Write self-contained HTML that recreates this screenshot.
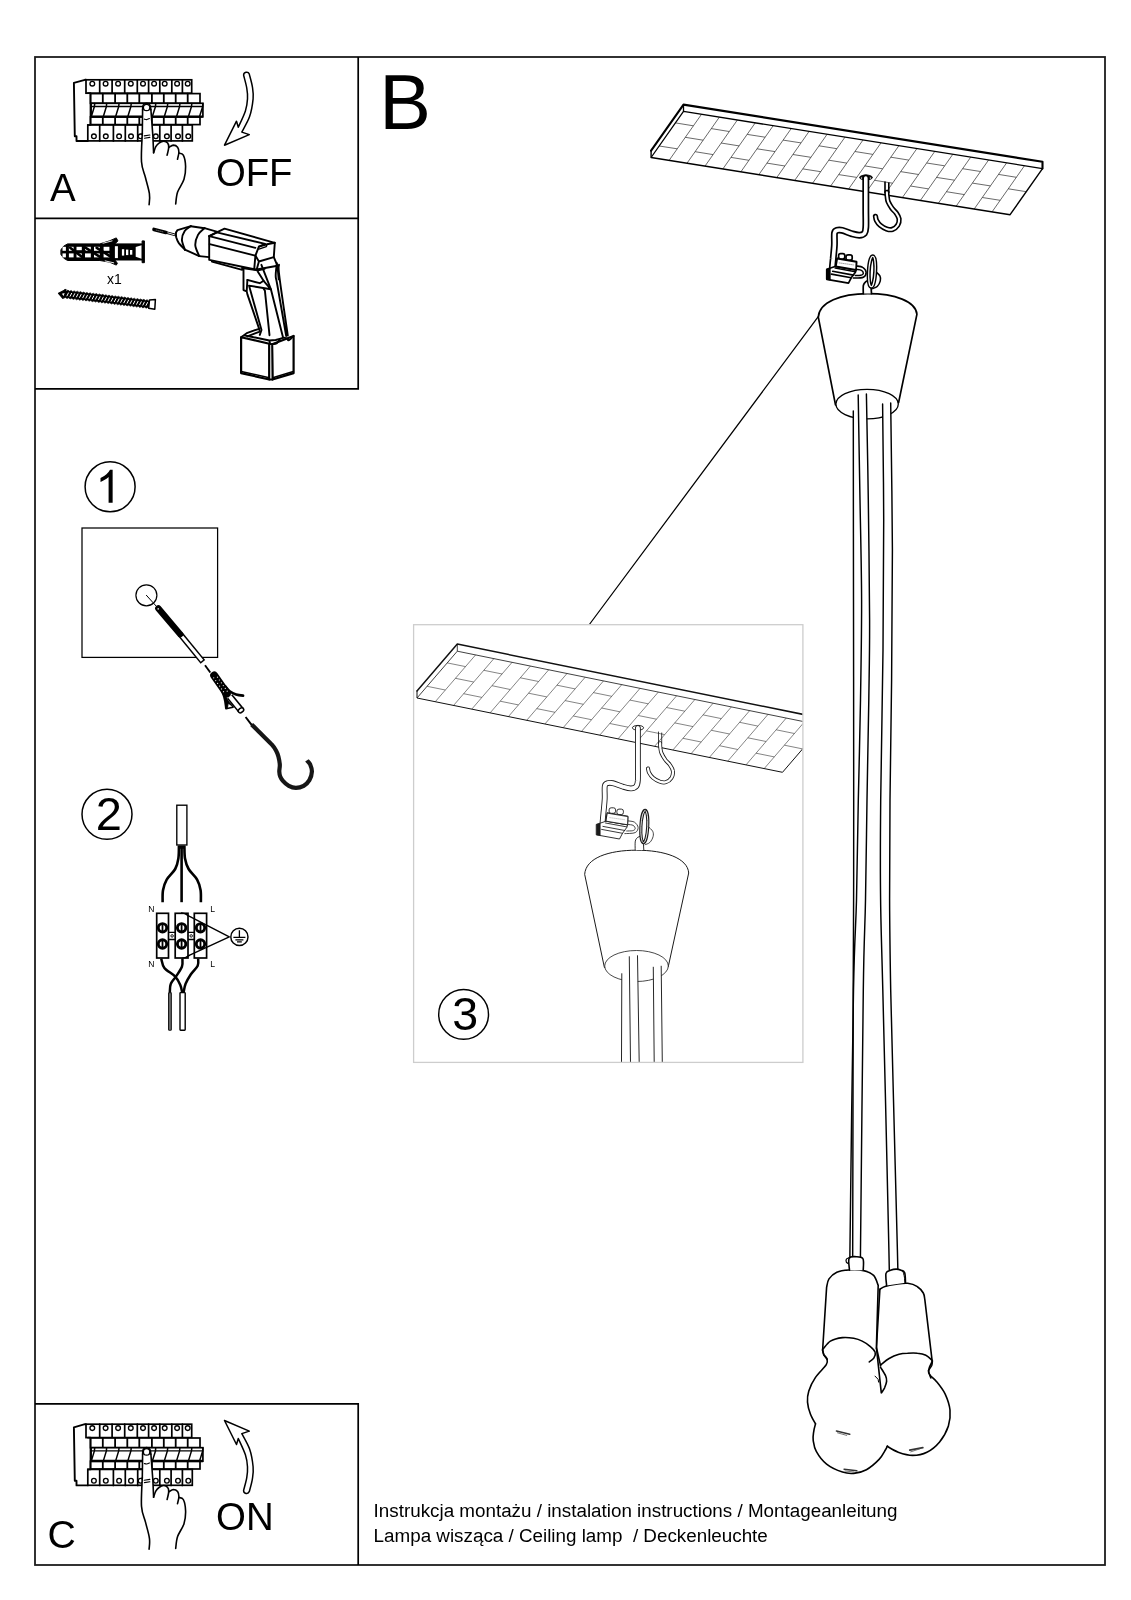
<!DOCTYPE html>
<html><head><meta charset="utf-8"><title>Instrukcja montazu</title>
<style>
html,body{margin:0;padding:0;background:#fff;}
body{width:1131px;height:1600px;overflow:hidden;font-family:"Liberation Sans",sans-serif;}
svg{position:absolute;left:0;top:0;display:block;will-change:transform;}
text{font-family:"Liberation Sans",sans-serif;fill:#000;}
.k{fill:none;stroke:#000;stroke-linecap:round;stroke-linejoin:round;}
.w{fill:#fff;stroke:#000;stroke-linecap:round;stroke-linejoin:round;}
</style></head><body>
<svg width="1131" height="1600" viewBox="0 0 1131 1600">
<rect x="0" y="0" width="1131" height="1600" fill="#fff"/>
<rect x="35" y="57" width="1070" height="1508" fill="none" stroke="#1c1c1c" stroke-width="1.8"/>
<path d="M358.2 57 V388.9 H35 M35 218.4 H358.2" fill="none" stroke="#000" stroke-width="1.7"/>
<path d="M35 1403.8 H358.2 V1565" fill="none" stroke="#000" stroke-width="1.7"/>
<text x="49.9" y="201" font-size="38.5">A</text>
<text x="215.9" y="185.7" font-size="38.3">OFF</text>
<text x="47.6" y="1548.0" font-size="39.2">C</text>
<text x="216.1" y="1529.7" font-size="38.4">ON</text>
<text x="379.3" y="129" font-size="77.5">B</text>
<text x="107" y="283.6" font-size="14">x1</text>
<text x="373.6" y="1516.6" font-size="18.82">Instrukcja montażu / instalation instructions / Montageanleitung</text>
<text x="373.6" y="1541.5" font-size="18.82" xml:space="preserve">Lampa wisząca / Ceiling lamp  / Deckenleuchte</text>
<g id="brkA"><path d="M86.0 79.8 L84.9 79.8 L73.9 82.9 L74.8 136.3 L76.5 136.3 L76.5 141.0 L87.8 141.0" fill="#fff" stroke="#000" stroke-width="1.9" stroke-linecap="round" stroke-linejoin="round" />
<rect x="86.0" y="79.8" width="105.7" height="13.4" fill="#fff" stroke="#000" stroke-width="1.7"/>
<path d="M99.7 79.8 L99.7 93.2M112.1 79.8 L112.1 93.2M124.7 79.8 L124.7 93.2M137.3 79.8 L137.3 93.2M148.6 79.8 L148.6 93.2M159.8 79.8 L159.8 93.2M171.8 79.8 L171.8 93.2M182.4 79.8 L182.4 93.2" fill="none" stroke="#000" stroke-width="1.7" stroke-linecap="round" stroke-linejoin="round" />
<circle cx="92.3" cy="83.7" r="2.35" fill="#fff" stroke="#000" stroke-width="1.35"/>
<circle cx="105.6" cy="83.7" r="2.35" fill="#fff" stroke="#000" stroke-width="1.35"/>
<circle cx="118.1" cy="83.7" r="2.35" fill="#fff" stroke="#000" stroke-width="1.35"/>
<circle cx="130.8" cy="83.7" r="2.35" fill="#fff" stroke="#000" stroke-width="1.35"/>
<circle cx="143.0" cy="83.7" r="2.35" fill="#fff" stroke="#000" stroke-width="1.35"/>
<circle cx="154.1" cy="83.7" r="2.35" fill="#fff" stroke="#000" stroke-width="1.35"/>
<circle cx="164.7" cy="83.7" r="2.35" fill="#fff" stroke="#000" stroke-width="1.35"/>
<circle cx="177.1" cy="83.7" r="2.35" fill="#fff" stroke="#000" stroke-width="1.35"/>
<circle cx="187.7" cy="83.7" r="2.35" fill="#fff" stroke="#000" stroke-width="1.35"/>
<rect x="90.5" y="93.6" width="109.5" height="9.7" fill="#fff" stroke="#000" stroke-width="1.7"/>
<path d="M102.8 93.6 L102.8 103.3M115.1 93.6 L115.1 103.3M127.3 93.6 L127.3 103.3M139.3 93.6 L139.3 103.3M151.9 93.6 L151.9 103.3M163.8 93.6 L163.8 103.3M175.7 93.6 L175.7 103.3M187.7 93.6 L187.7 103.3" fill="none" stroke="#000" stroke-width="1.8" stroke-linecap="round" stroke-linejoin="round" />
<rect x="90.5" y="116.8" width="109.5" height="7.8" fill="#fff" stroke="#000" stroke-width="1.7"/>
<path d="M102.8 116.8 L102.8 124.6M115.1 116.8 L115.1 124.6M127.3 116.8 L127.3 124.6M139.3 116.8 L139.3 124.6M151.9 116.8 L151.9 124.6M163.8 116.8 L163.8 124.6M175.7 116.8 L175.7 124.6M187.7 116.8 L187.7 124.6" fill="none" stroke="#000" stroke-width="1.8" stroke-linecap="round" stroke-linejoin="round" />
<rect x="91.1" y="103.3" width="111.8" height="13.5" fill="#fff" stroke="#000" stroke-width="1.7"/>
<path d="M91.1 106.5 L202.9 106.5" fill="none" stroke="#000" stroke-width="1.4" stroke-linecap="round" stroke-linejoin="round" style="stroke-linecap:butt"/>
<path d="M90.5 116.6 L202.9 116.6" fill="none" stroke="#000" stroke-width="2.3" stroke-linecap="round" stroke-linejoin="round" style="stroke-linecap:butt"/>
<path d="M94.7 103.6 L94.4 106.5 L91.5 116.0M106.6 103.6 L106.4 106.5 L103.5 116.0M119.0 103.6 L118.7 106.5 L115.8 116.0M131.2 103.6 L130.9 106.5 L128.0 116.0M155.7 103.6 L155.5 106.5 L152.5 116.0M167.7 103.6 L167.4 106.5 L164.5 116.0M179.9 103.6 L179.6 106.5 L176.7 116.0M191.8 103.6 L191.5 106.5 L188.6 116.0M202.9 103.6 L202.7 106.5 L199.7 116.0" fill="none" stroke="#000" stroke-width="1.5" stroke-linecap="round" stroke-linejoin="round" />
<rect x="87.8" y="125.0" width="104.5" height="15.9" fill="#fff" stroke="#000" stroke-width="1.7"/>
<path d="M99.7 125.0 L99.7 141.0M113.4 125.0 L113.4 141.0M125.3 125.0 L125.3 141.0M137.7 125.0 L137.7 141.0M159.8 125.0 L159.8 141.0M171.1 125.0 L171.1 141.0M182.4 125.0 L182.4 141.0" fill="none" stroke="#000" stroke-width="1.7" stroke-linecap="round" stroke-linejoin="round" />
<circle cx="93.9" cy="136.3" r="2.35" fill="#fff" stroke="#000" stroke-width="1.35"/>
<circle cx="105.8" cy="136.3" r="2.35" fill="#fff" stroke="#000" stroke-width="1.35"/>
<circle cx="119.1" cy="136.3" r="2.35" fill="#fff" stroke="#000" stroke-width="1.35"/>
<circle cx="131.0" cy="136.3" r="2.35" fill="#fff" stroke="#000" stroke-width="1.35"/>
<circle cx="140.6" cy="136.3" r="2.35" fill="#fff" stroke="#000" stroke-width="1.35"/>
<circle cx="155.8" cy="136.3" r="2.35" fill="#fff" stroke="#000" stroke-width="1.35"/>
<circle cx="166.9" cy="136.3" r="2.35" fill="#fff" stroke="#000" stroke-width="1.35"/>
<circle cx="178.0" cy="136.3" r="2.35" fill="#fff" stroke="#000" stroke-width="1.35"/>
<circle cx="188.3" cy="136.3" r="2.35" fill="#fff" stroke="#000" stroke-width="1.35"/>
<path d="M87.8 93.2 L90.5 93.2 L90.5 125.0 L87.8 125.0" fill="none" stroke="#000" stroke-width="1.7" stroke-linecap="round" stroke-linejoin="round" />
<path d="M142.6 109.8 L143.2 105.1 L146.6 103.2 L149.9 105.1 L150.9 109.8 L153.2 144.3 L153.1 139.5 L153.7 152.3 L158.2 143.5 L163.3 141.1 L167.7 143.1 L169.0 147.2 L174.1 145.1 L178.6 148.8 L179.2 153.1 L183.7 155.5 L185.6 166.6 L183.7 179.3 L177.3 192.1 L175.7 204.0 L149.1 204.8 L149.4 193.7 L145.5 177.7 L141.5 161.8 L142.3 133.2 Z" fill="#fff" stroke="none" stroke-width="0" stroke-linecap="round" stroke-linejoin="round" />
<path d="M142.6 109.8 L142.3 133.4 " fill="none" stroke="#000" stroke-width="1.6" stroke-linecap="round" stroke-linejoin="round" />
<path d="M142.6 109.8 C142.7 109.0 142.6 106.3 143.2 105.1 C143.9 104.0 145.5 103.2 146.6 103.2 C147.7 103.2 149.2 104.0 149.9 105.1 C150.6 106.3 150.8 109.0 150.9 109.8" fill="none" stroke="#000" stroke-width="1.6" stroke-linecap="round" stroke-linejoin="round" />
<path d="M150.9 109.8 L152.9 136.4 L153.6 152.8" fill="none" stroke="#000" stroke-width="1.6" stroke-linecap="round" stroke-linejoin="round" />
<path d="M142.3 133.2 C142.1 138.0 141.0 154.4 141.5 161.8 C142.0 169.3 144.1 172.4 145.5 177.7 C146.8 183.1 148.8 189.2 149.4 193.7 C150.1 198.2 149.2 202.9 149.1 204.8" fill="none" stroke="#000" stroke-width="1.6" stroke-linecap="round" stroke-linejoin="round" />
<path d="M153.6 152.8 C154.0 151.8 154.9 148.3 155.8 146.7 C156.7 145.1 157.7 144.0 159.0 143.1 C160.3 142.1 162.3 141.1 163.8 141.1 C165.2 141.1 166.9 142.0 167.7 143.1 C168.6 144.1 168.8 145.5 168.7 147.5 C168.6 149.5 167.4 153.9 167.1 155.1" fill="none" stroke="#000" stroke-width="1.6" stroke-linecap="round" stroke-linejoin="round" />
<path d="M168.7 147.5 C169.5 147.1 171.8 145.2 173.3 145.1 C174.8 145.1 176.7 146.0 177.6 147.2 C178.5 148.4 178.9 150.3 178.9 152.3 C178.9 154.3 177.7 158.1 177.5 159.3" fill="none" stroke="#000" stroke-width="1.6" stroke-linecap="round" stroke-linejoin="round" />
<path d="M178.9 153.1 C179.6 153.4 182.2 152.9 183.3 155.1 C184.5 157.4 185.5 162.6 185.6 166.6 C185.7 170.6 185.3 175.1 184.0 179.3 C182.7 183.6 179.0 188.0 177.6 192.1 C176.2 196.2 176.0 202.0 175.7 204.0" fill="none" stroke="#000" stroke-width="1.6" stroke-linecap="round" stroke-linejoin="round" />
<circle cx="146.6" cy="107.5" r="3.2" fill="#fff" stroke="#000" stroke-width="1.3"/>
<path d="M144.3 119.1 C144.7 119.2 145.9 119.7 146.7 119.6 C147.5 119.5 148.9 118.7 149.4 118.5" fill="none" stroke="#000" stroke-width="1.1" stroke-linecap="round" stroke-linejoin="round" />
<path d="M144.2 135.9 L149.9 135.0M144.4 138.2 L149.9 137.4" fill="none" stroke="#000" stroke-width="1.1" stroke-linecap="round" stroke-linejoin="round" /></g>
<g transform="translate(0 1344.4)"><path d="M86.0 79.8 L84.9 79.8 L73.9 82.9 L74.8 136.3 L76.5 136.3 L76.5 141.0 L87.8 141.0" fill="#fff" stroke="#000" stroke-width="1.9" stroke-linecap="round" stroke-linejoin="round" />
<rect x="86.0" y="79.8" width="105.7" height="13.4" fill="#fff" stroke="#000" stroke-width="1.7"/>
<path d="M99.7 79.8 L99.7 93.2M112.1 79.8 L112.1 93.2M124.7 79.8 L124.7 93.2M137.3 79.8 L137.3 93.2M148.6 79.8 L148.6 93.2M159.8 79.8 L159.8 93.2M171.8 79.8 L171.8 93.2M182.4 79.8 L182.4 93.2" fill="none" stroke="#000" stroke-width="1.7" stroke-linecap="round" stroke-linejoin="round" />
<circle cx="92.3" cy="83.7" r="2.35" fill="#fff" stroke="#000" stroke-width="1.35"/>
<circle cx="105.6" cy="83.7" r="2.35" fill="#fff" stroke="#000" stroke-width="1.35"/>
<circle cx="118.1" cy="83.7" r="2.35" fill="#fff" stroke="#000" stroke-width="1.35"/>
<circle cx="130.8" cy="83.7" r="2.35" fill="#fff" stroke="#000" stroke-width="1.35"/>
<circle cx="143.0" cy="83.7" r="2.35" fill="#fff" stroke="#000" stroke-width="1.35"/>
<circle cx="154.1" cy="83.7" r="2.35" fill="#fff" stroke="#000" stroke-width="1.35"/>
<circle cx="164.7" cy="83.7" r="2.35" fill="#fff" stroke="#000" stroke-width="1.35"/>
<circle cx="177.1" cy="83.7" r="2.35" fill="#fff" stroke="#000" stroke-width="1.35"/>
<circle cx="187.7" cy="83.7" r="2.35" fill="#fff" stroke="#000" stroke-width="1.35"/>
<rect x="90.5" y="93.6" width="109.5" height="9.7" fill="#fff" stroke="#000" stroke-width="1.7"/>
<path d="M102.8 93.6 L102.8 103.3M115.1 93.6 L115.1 103.3M127.3 93.6 L127.3 103.3M139.3 93.6 L139.3 103.3M151.9 93.6 L151.9 103.3M163.8 93.6 L163.8 103.3M175.7 93.6 L175.7 103.3M187.7 93.6 L187.7 103.3" fill="none" stroke="#000" stroke-width="1.8" stroke-linecap="round" stroke-linejoin="round" />
<rect x="90.5" y="116.8" width="109.5" height="7.8" fill="#fff" stroke="#000" stroke-width="1.7"/>
<path d="M102.8 116.8 L102.8 124.6M115.1 116.8 L115.1 124.6M127.3 116.8 L127.3 124.6M139.3 116.8 L139.3 124.6M151.9 116.8 L151.9 124.6M163.8 116.8 L163.8 124.6M175.7 116.8 L175.7 124.6M187.7 116.8 L187.7 124.6" fill="none" stroke="#000" stroke-width="1.8" stroke-linecap="round" stroke-linejoin="round" />
<rect x="91.1" y="103.3" width="111.8" height="13.5" fill="#fff" stroke="#000" stroke-width="1.7"/>
<path d="M91.1 106.5 L202.9 106.5" fill="none" stroke="#000" stroke-width="1.4" stroke-linecap="round" stroke-linejoin="round" style="stroke-linecap:butt"/>
<path d="M90.5 116.6 L202.9 116.6" fill="none" stroke="#000" stroke-width="2.3" stroke-linecap="round" stroke-linejoin="round" style="stroke-linecap:butt"/>
<path d="M94.7 103.6 L94.4 106.5 L91.5 116.0M106.6 103.6 L106.4 106.5 L103.5 116.0M119.0 103.6 L118.7 106.5 L115.8 116.0M131.2 103.6 L130.9 106.5 L128.0 116.0M155.7 103.6 L155.5 106.5 L152.5 116.0M167.7 103.6 L167.4 106.5 L164.5 116.0M179.9 103.6 L179.6 106.5 L176.7 116.0M191.8 103.6 L191.5 106.5 L188.6 116.0M202.9 103.6 L202.7 106.5 L199.7 116.0" fill="none" stroke="#000" stroke-width="1.5" stroke-linecap="round" stroke-linejoin="round" />
<rect x="87.8" y="125.0" width="104.5" height="15.9" fill="#fff" stroke="#000" stroke-width="1.7"/>
<path d="M99.7 125.0 L99.7 141.0M113.4 125.0 L113.4 141.0M125.3 125.0 L125.3 141.0M137.7 125.0 L137.7 141.0M159.8 125.0 L159.8 141.0M171.1 125.0 L171.1 141.0M182.4 125.0 L182.4 141.0" fill="none" stroke="#000" stroke-width="1.7" stroke-linecap="round" stroke-linejoin="round" />
<circle cx="93.9" cy="136.3" r="2.35" fill="#fff" stroke="#000" stroke-width="1.35"/>
<circle cx="105.8" cy="136.3" r="2.35" fill="#fff" stroke="#000" stroke-width="1.35"/>
<circle cx="119.1" cy="136.3" r="2.35" fill="#fff" stroke="#000" stroke-width="1.35"/>
<circle cx="131.0" cy="136.3" r="2.35" fill="#fff" stroke="#000" stroke-width="1.35"/>
<circle cx="140.6" cy="136.3" r="2.35" fill="#fff" stroke="#000" stroke-width="1.35"/>
<circle cx="155.8" cy="136.3" r="2.35" fill="#fff" stroke="#000" stroke-width="1.35"/>
<circle cx="166.9" cy="136.3" r="2.35" fill="#fff" stroke="#000" stroke-width="1.35"/>
<circle cx="178.0" cy="136.3" r="2.35" fill="#fff" stroke="#000" stroke-width="1.35"/>
<circle cx="188.3" cy="136.3" r="2.35" fill="#fff" stroke="#000" stroke-width="1.35"/>
<path d="M87.8 93.2 L90.5 93.2 L90.5 125.0 L87.8 125.0" fill="none" stroke="#000" stroke-width="1.7" stroke-linecap="round" stroke-linejoin="round" />
<path d="M142.6 109.8 L143.2 105.1 L146.6 103.2 L149.9 105.1 L150.9 109.8 L153.2 144.3 L153.1 139.5 L153.7 152.3 L158.2 143.5 L163.3 141.1 L167.7 143.1 L169.0 147.2 L174.1 145.1 L178.6 148.8 L179.2 153.1 L183.7 155.5 L185.6 166.6 L183.7 179.3 L177.3 192.1 L175.7 204.0 L149.1 204.8 L149.4 193.7 L145.5 177.7 L141.5 161.8 L142.3 133.2 Z" fill="#fff" stroke="none" stroke-width="0" stroke-linecap="round" stroke-linejoin="round" />
<path d="M142.6 109.8 L142.3 133.4 " fill="none" stroke="#000" stroke-width="1.6" stroke-linecap="round" stroke-linejoin="round" />
<path d="M142.6 109.8 C142.7 109.0 142.6 106.3 143.2 105.1 C143.9 104.0 145.5 103.2 146.6 103.2 C147.7 103.2 149.2 104.0 149.9 105.1 C150.6 106.3 150.8 109.0 150.9 109.8" fill="none" stroke="#000" stroke-width="1.6" stroke-linecap="round" stroke-linejoin="round" />
<path d="M150.9 109.8 L152.9 136.4 L153.6 152.8" fill="none" stroke="#000" stroke-width="1.6" stroke-linecap="round" stroke-linejoin="round" />
<path d="M142.3 133.2 C142.1 138.0 141.0 154.4 141.5 161.8 C142.0 169.3 144.1 172.4 145.5 177.7 C146.8 183.1 148.8 189.2 149.4 193.7 C150.1 198.2 149.2 202.9 149.1 204.8" fill="none" stroke="#000" stroke-width="1.6" stroke-linecap="round" stroke-linejoin="round" />
<path d="M153.6 152.8 C154.0 151.8 154.9 148.3 155.8 146.7 C156.7 145.1 157.7 144.0 159.0 143.1 C160.3 142.1 162.3 141.1 163.8 141.1 C165.2 141.1 166.9 142.0 167.7 143.1 C168.6 144.1 168.8 145.5 168.7 147.5 C168.6 149.5 167.4 153.9 167.1 155.1" fill="none" stroke="#000" stroke-width="1.6" stroke-linecap="round" stroke-linejoin="round" />
<path d="M168.7 147.5 C169.5 147.1 171.8 145.2 173.3 145.1 C174.8 145.1 176.7 146.0 177.6 147.2 C178.5 148.4 178.9 150.3 178.9 152.3 C178.9 154.3 177.7 158.1 177.5 159.3" fill="none" stroke="#000" stroke-width="1.6" stroke-linecap="round" stroke-linejoin="round" />
<path d="M178.9 153.1 C179.6 153.4 182.2 152.9 183.3 155.1 C184.5 157.4 185.5 162.6 185.6 166.6 C185.7 170.6 185.3 175.1 184.0 179.3 C182.7 183.6 179.0 188.0 177.6 192.1 C176.2 196.2 176.0 202.0 175.7 204.0" fill="none" stroke="#000" stroke-width="1.6" stroke-linecap="round" stroke-linejoin="round" />
<circle cx="146.6" cy="107.5" r="3.2" fill="#fff" stroke="#000" stroke-width="1.3"/>
<path d="M144.3 119.1 C144.7 119.2 145.9 119.7 146.7 119.6 C147.5 119.5 148.9 118.7 149.4 118.5" fill="none" stroke="#000" stroke-width="1.1" stroke-linecap="round" stroke-linejoin="round" />
<path d="M144.2 135.9 L149.9 135.0M144.4 138.2 L149.9 137.4" fill="none" stroke="#000" stroke-width="1.1" stroke-linecap="round" stroke-linejoin="round" /></g>
<path d="M243.6 75.2 C244.1 77.4 246.2 84.3 246.8 88.3 C247.5 92.2 247.7 95.1 247.5 98.9 C247.3 102.7 246.9 106.2 245.4 110.9 C243.9 115.6 239.5 124.5 238.3 127.2 L236.5 121.2 L224.5 145.2 L249.3 134.6 L241.8 132.1 L241.8 132.1 C243.1 129.5 247.7 122.1 249.6 116.6 C251.5 111.1 252.6 103.9 253.1 98.9 C253.6 94.0 253.0 91.0 252.4 86.9 C251.8 82.8 249.8 76.2 249.3 74.1 A2.95 2.95 0 0 0 243.6 75.2 Z" fill="#fff" stroke="#000" stroke-width="1.5" stroke-linejoin="round"/>
<g transform="translate(0 1565.7) scale(1 -1)"><path d="M243.6 75.2 C244.1 77.4 246.2 84.3 246.8 88.3 C247.5 92.2 247.7 95.1 247.5 98.9 C247.3 102.7 246.9 106.2 245.4 110.9 C243.9 115.6 239.5 124.5 238.3 127.2 L236.5 121.2 L224.5 145.2 L249.3 134.6 L241.8 132.1 L241.8 132.1 C243.1 129.5 247.7 122.1 249.6 116.6 C251.5 111.1 252.6 103.9 253.1 98.9 C253.6 94.0 253.0 91.0 252.4 86.9 C251.8 82.8 249.8 76.2 249.3 74.1 A2.95 2.95 0 0 0 243.6 75.2 Z" fill="#fff" stroke="#000" stroke-width="1.5" stroke-linejoin="round"/></g>
<path d="M61.1 249.6 L63.6 246.2 L67.5 243.9 L99.9 243.9 L109.4 240.9 L116.3 237.9 L117.9 240.9 L114.9 243.9 L142.1 243.9 L142.1 240.9 L144.4 240.9 L144.4 262.7 L142.1 262.7 L142.1 260.0 L114.9 260.0 L117.4 263.2 L116.3 265.1 L109.4 262.1 L99.9 260.5 L67.5 260.5 L63.6 258.1 L61.1 254.7 Z" fill="#000" stroke="#000" stroke-width="1.0" stroke-linecap="round" stroke-linejoin="round" />
<rect x="62.5" y="246.8" width="3.4" height="4.0" fill="#fff"/>
<rect x="62.5" y="253.4" width="3.4" height="4.0" fill="#fff"/>
<rect x="68.9" y="246.8" width="4.7" height="4.0" fill="#fff"/>
<rect x="68.9" y="253.4" width="4.7" height="4.0" fill="#fff"/>
<rect x="76.5" y="246.8" width="5.3" height="4.0" fill="#fff"/>
<rect x="76.5" y="253.4" width="5.3" height="4.0" fill="#fff"/>
<rect x="85.0" y="246.8" width="5.8" height="4.0" fill="#fff"/>
<rect x="85.0" y="253.4" width="5.8" height="4.0" fill="#fff"/>
<rect x="94.0" y="246.8" width="5.8" height="4.0" fill="#fff"/>
<rect x="94.0" y="253.4" width="5.8" height="4.0" fill="#fff"/>
<rect x="103.6" y="246.8" width="5.8" height="4.0" fill="#fff"/>
<rect x="103.6" y="253.4" width="5.8" height="4.0" fill="#fff"/>
<rect x="114.9" y="246.2" width="3.0" height="11.9" fill="#fff"/>
<rect x="121.9" y="249.2" width="2.3" height="6.4" fill="#fff"/>
<rect x="126.0" y="249.6" width="2.3" height="5.5" fill="#fff"/>
<rect x="130.0" y="250.0" width="2.3" height="4.7" fill="#fff"/>
<path d="M135.7 247.1 L141.5 245.2 L141.5 258.7 L135.7 256.8 Z" fill="#fff" stroke="none" stroke-width="0" stroke-linecap="round" stroke-linejoin="round" />
<path d="M135.7 250.0 L141.5 250.0M135.7 253.9 L141.5 253.9" fill="none" stroke="none" stroke-width="0.0" stroke-linecap="round" stroke-linejoin="round" />
<path d="M70.2 247.8 L81.8 256.8M85.0 247.3 L99.9 256.8M72.8 251.5 L85.0 251.5M96.7 247.8 L109.4 255.8" fill="none" stroke="#000" stroke-width="2.6" stroke-linecap="round" stroke-linejoin="round" />
<path d="M103.1 243.2 L112.1 240.9" fill="none" stroke="#fff" stroke-width="0.9" stroke-linecap="round" stroke-linejoin="round" />
<path d="M105.2 260.9 L113.7 262.8" fill="none" stroke="#fff" stroke-width="0.9" stroke-linecap="round" stroke-linejoin="round" />
<path d="M64.8 289.7 L66.3 290.9 L68.0 290.1 L69.5 291.3 L71.2 290.5 L72.6 291.7 L74.3 290.9 L75.8 292.0 L77.5 291.2 L79.0 292.4 L80.7 291.6 L82.1 292.8 L83.8 292.0 L85.3 293.2 L87.0 292.4 L88.4 293.6 L90.2 292.8 L91.6 294.0 L93.3 293.2 L94.8 294.3 L96.5 293.5 L97.9 294.7 L99.6 293.9 L101.1 295.1 L102.8 294.3 L104.3 295.5 L106.0 294.7 L107.4 295.9 L109.1 295.1 L110.6 296.3 L112.3 295.5 L113.8 296.7 L115.5 295.9 L116.9 297.0 L118.6 296.2 L120.1 297.4 L121.8 296.6 L123.2 297.8 L124.9 297.0 L126.4 298.2 L128.1 297.4 L129.6 298.6 L131.3 297.8 L132.7 299.0 L134.4 298.2 L135.9 299.4 L137.6 298.6 L139.1 299.7 L140.8 298.9 L142.2 300.1 L143.9 299.3 L145.4 300.5 L147.1 299.7 L148.6 300.9 L150.3 300.1 L149.2 308.6 L147.8 307.4 L146.1 308.2 L144.6 307.1 L142.9 307.9 L141.4 306.7 L139.7 307.5 L138.3 306.3 L136.6 307.1 L135.1 305.9 L133.4 306.7 L131.9 305.5 L130.2 306.3 L128.8 305.1 L127.1 305.9 L125.6 304.8 L123.9 305.6 L122.4 304.4 L120.7 305.2 L119.3 304.0 L117.6 304.8 L116.1 303.6 L114.4 304.4 L113.0 303.2 L111.3 304.0 L109.8 302.8 L108.1 303.6 L106.6 302.4 L104.9 303.2 L103.5 302.1 L101.8 302.9 L100.3 301.7 L98.6 302.5 L97.1 301.3 L95.4 302.1 L94.0 300.9 L92.3 301.7 L90.8 300.5 L89.1 301.3 L87.7 300.1 L85.9 300.9 L84.5 299.7 L82.8 300.5 L81.3 299.4 L79.6 300.2 L78.2 299.0 L76.5 299.8 L75.0 298.6 L73.3 299.4 L71.8 298.2 L70.1 299.0 L68.7 297.8 L67.0 298.6 L65.5 297.4 L63.8 298.2 Z" fill="#000" stroke="#000" stroke-width="0.6" stroke-linecap="round" stroke-linejoin="round" />
<path d="M68.6 292.6 L66.8 296.2 M71.8 293.0 L69.9 296.6 M74.9 293.3 L73.1 296.9 M78.1 293.7 L76.3 297.3 M81.3 294.1 L79.4 297.7 M84.4 294.5 L82.6 298.1 M87.6 294.9 L85.7 298.5 M90.8 295.3 L88.9 298.9 M93.9 295.7 L92.1 299.3 M97.1 296.0 L95.2 299.6 M100.2 296.4 L98.4 300.0 M103.4 296.8 L101.6 300.4 M106.6 297.2 L104.7 300.8 M109.7 297.6 L107.9 301.2 M112.9 298.0 L111.0 301.6 M116.1 298.3 L114.2 302.0 M119.2 298.7 L117.4 302.3 M122.4 299.1 L120.5 302.7 M125.6 299.5 L123.7 303.1 M128.7 299.9 L126.9 303.5 M131.9 300.3 L130.0 303.9 M135.0 300.7 L133.2 304.3 M138.2 301.0 L136.4 304.6 M141.4 301.4 L139.5 305.0 M144.5 301.8 L142.7 305.4 M147.7 302.2 L145.8 305.8 " fill="none" stroke="#fff" stroke-width="1.0" stroke-linecap="round" stroke-linejoin="round" style="stroke-linecap:butt"/>
<path d="M58.5 293.4 L65.9 289.5 L62.9 298.4 Z" fill="#000" stroke="#000" stroke-width="1.2" stroke-linecap="round" stroke-linejoin="round" />
<path d="M61.9 293.8 L64.6 292.9 L63.6 295.9 Z" fill="#fff" stroke="none" stroke-width="0" stroke-linecap="round" stroke-linejoin="round" />
<path d="M149.5 299.9 L155.4 299.5 L154.8 309.2 L148.7 308.2 Z" fill="#fff" stroke="#000" stroke-width="1.5" stroke-linecap="round" stroke-linejoin="round" />
<path d="M166.1 232.4 L175.6 235.1" fill="none" stroke="#000" stroke-width="2.6" stroke-linecap="round" stroke-linejoin="round" style="stroke-linecap:butt"/>
<path d="M166.7 232.5 L174.8 234.9" fill="none" stroke="#fff" stroke-width="0.9" stroke-linecap="round" stroke-linejoin="round" style="stroke-linecap:butt"/>
<path d="M154.0 229.4 L165.8 232.5" fill="none" stroke="#000" stroke-width="3.6" stroke-linecap="round" stroke-linejoin="round" />
<path d="M156.2 230.1 L163.9 232.1" fill="none" stroke="#777" stroke-width="0.8" stroke-linecap="round" stroke-linejoin="round" stroke-dasharray="0.9 1.1"/>
<path d="M176.0 232.6 L177.5 230.1 L190.8 226.2 " fill="none" stroke="#000" stroke-width="1.9" stroke-linecap="round" stroke-linejoin="round" />
<path d="M190.8 226.2 C189.8 227.0 186.1 228.9 184.7 231.1 C183.2 233.4 181.9 236.7 181.9 239.8 C182.0 242.9 184.4 248.1 184.9 249.7" fill="none" stroke="#000" stroke-width="1.9" stroke-linecap="round" stroke-linejoin="round" />
<path d="M176.0 232.6 C176.0 233.4 175.8 235.6 176.2 237.3 C176.7 239.0 177.3 240.8 178.7 242.9 C180.2 245.0 183.9 248.6 184.9 249.7" fill="none" stroke="#000" stroke-width="1.9" stroke-linecap="round" stroke-linejoin="round" />
<path d="M190.8 226.2 L204.5 228.2" fill="none" stroke="#000" stroke-width="1.9" stroke-linecap="round" stroke-linejoin="round" />
<path d="M204.5 228.2 C203.4 229.3 199.5 232.0 198.0 234.9 C196.5 237.7 195.1 241.8 195.3 245.4 C195.5 248.9 198.6 254.3 199.3 256.1" fill="none" stroke="#000" stroke-width="1.9" stroke-linecap="round" stroke-linejoin="round" />
<path d="M184.9 249.7 L199.3 256.1" fill="none" stroke="#000" stroke-width="1.9" stroke-linecap="round" stroke-linejoin="round" />
<path d="M204.5 228.2 L217.5 231.8" fill="none" stroke="#000" stroke-width="1.9" stroke-linecap="round" stroke-linejoin="round" />
<path d="M199.3 256.1 L209.2 257.1" fill="none" stroke="#000" stroke-width="1.9" stroke-linecap="round" stroke-linejoin="round" />
<path d="M209.2 236.1 L209.2 259.9 L254.2 269.3 L255.4 255.6 L258.9 246.6 L267.0 244.3 L274.8 242.8 L224.5 228.7 L216.8 232.4 Z" fill="#fff" stroke="#000" stroke-width="1.9" stroke-linecap="round" stroke-linejoin="round" />
<path d="M209.2 236.1 L216.8 232.4 L265.1 243.8 L258.9 246.6" fill="none" stroke="#000" stroke-width="1.9" stroke-linecap="round" stroke-linejoin="round" />
<path d="M209.2 236.1 L255.4 247.8M209.7 244.1 L255.2 255.6" fill="none" stroke="#000" stroke-width="1.9" stroke-linecap="round" stroke-linejoin="round" />
<path d="M211.9 261.6 L242.2 269.8 L242.2 267.6" fill="none" stroke="#000" stroke-width="1.9" stroke-linecap="round" stroke-linejoin="round" />
<path d="M274.8 242.8 L273.8 257.1 L277.5 265.8 L278.7 279.4" fill="none" stroke="#000" stroke-width="1.9" stroke-linecap="round" stroke-linejoin="round" />
<path d="M258.9 261.5 L273.8 257.1M256.7 269.5 L277.5 265.8M255.4 255.6 L258.9 261.5 L256.7 269.5 L254.2 269.3" fill="none" stroke="#000" stroke-width="1.9" stroke-linecap="round" stroke-linejoin="round" />
<path d="M267.0 244.3 L266.3 246.6 L258.9 249.1" fill="none" stroke="#000" stroke-width="1.52" stroke-linecap="round" stroke-linejoin="round" />
<path d="M243.5 268.8 L243.5 290.1 L246.7 291.4 L247.4 279.9M246.7 291.4 L247.4 294.4 L259.1 328.6 L259.8 331.6 L247.4 336.4" fill="none" stroke="#000" stroke-width="1.9" stroke-linecap="round" stroke-linejoin="round" />
<path d="M243.9 268.4 L258.2 270.3 L264.6 268.8M247.4 279.9 L259.8 283.2 L263.6 280.8 L257.4 271.1" fill="none" stroke="#000" stroke-width="1.9" stroke-linecap="round" stroke-linejoin="round" />
<path d="M249.0 285.6 L270.9 289.3 L263.6 280.8M249.0 285.6 L261.5 330.0 L259.8 334.9" fill="none" stroke="#000" stroke-width="1.9" stroke-linecap="round" stroke-linejoin="round" />
<path d="M263.6 288.8 L264.9 290.6 L269.5 335.2M270.9 289.3 L282.8 336.5M261.4 264.8 L270.9 289.3" fill="none" stroke="#000" stroke-width="1.9" stroke-linecap="round" stroke-linejoin="round" />
<path d="M276.9 263.2 C276.7 265.3 275.6 272.2 275.7 275.9 C275.8 279.6 275.7 275.4 277.4 285.5 C279.2 295.5 284.7 327.6 286.2 336.0M279.0 264.8 C279.1 266.6 277.8 264.1 279.3 275.9 C280.7 287.7 286.4 325.6 287.8 335.6" fill="none" stroke="#000" stroke-width="1.9" stroke-linecap="round" stroke-linejoin="round" />
<path d="M241.1 337.3 L269.3 343.7 L269.3 379.5 L241.1 373.1 Z" fill="#fff" stroke="#000" stroke-width="2.1999999999999997" stroke-linecap="round" stroke-linejoin="round" />
<path d="M272.1 344.2 L293.6 336.0 L293.6 373.1 L272.5 379.5 Z" fill="#fff" stroke="#000" stroke-width="2.1999999999999997" stroke-linecap="round" stroke-linejoin="round" />
<path d="M269.3 343.7 L272.1 344.2 L272.5 379.5 L269.3 379.5 Z" fill="#fff" stroke="#000" stroke-width="1.9" stroke-linecap="round" stroke-linejoin="round" />
<path d="M241.1 337.3 L247.4 332.8 L259.1 328.8M243.9 335.2 L269.3 340.5 L275.7 340.0 L279.7 338.8 L283.6 337.6M269.3 340.5 L270.1 343.7" fill="none" stroke="#000" stroke-width="1.9" stroke-linecap="round" stroke-linejoin="round" />
<path d="M272.5 344.2 C273.2 344.0 275.3 344.1 276.5 343.4 C277.7 342.6 279.1 340.2 279.7 339.6M283.6 337.6 C284.2 337.7 286.0 337.9 286.8 338.4 C287.6 338.8 287.8 340.3 288.4 340.4 C289.1 340.4 289.9 339.5 290.8 338.8 C291.7 338.0 293.1 336.4 293.6 336.0" fill="none" stroke="#000" stroke-width="1.9" stroke-linecap="round" stroke-linejoin="round" />
<path d="M241.3 371.4 L269.2 377.7M272.7 377.7 L293.3 371.4" fill="none" stroke="#000" stroke-width="1.52" stroke-linecap="round" stroke-linejoin="round" />
<circle cx="110.1" cy="486.8" r="25" fill="none" stroke="#000" stroke-width="1.5"/><path d="M763 0H583V1147Q518 1085 412.5 1023Q307 961 223 930V1104Q374 1175 487 1276Q600 1377 647 1472H763Z" transform="translate(95.50 502.80) scale(0.02246 -0.02246)" fill="#000"/>
<rect x="82" y="528" width="135.6" height="129.4" fill="none" stroke="#000" stroke-width="1.25"/>
<circle cx="146.4" cy="595.3" r="10.5" fill="none" stroke="#000" stroke-width="1.2"/>
<path d="M146.4 595.3 L157 607" fill="none" stroke="#000" stroke-width="1.0" stroke-linecap="round" stroke-linejoin="round" />
<path d="M180.2 634.2 L202.9 661.9" fill="none" stroke="#000" stroke-width="5.9" stroke-linecap="round" stroke-linejoin="round" style="stroke-linecap:butt"/>
<path d="M181.8 636.1 L202.0 660.8" fill="none" stroke="#fff" stroke-width="3.0" stroke-linecap="round" stroke-linejoin="round" style="stroke-linecap:butt"/>
<path d="M158.3 608.4 L180.2 634.2" fill="none" stroke="#000" stroke-width="6.3" stroke-linecap="round" stroke-linejoin="round" />
<circle cx="158.2" cy="608.9" r="0.8" fill="#ddd"/>
<path d="M205 665.3 L210.3 672.5" fill="none" stroke="#000" stroke-width="1.9" stroke-linecap="round" stroke-linejoin="round" style="stroke-linecap:butt"/>
<path d="M245.6 717 L251.2 724.4" fill="none" stroke="#000" stroke-width="1.9" stroke-linecap="round" stroke-linejoin="round" style="stroke-linecap:butt"/>
<path d="M229.7 696.6 L241.0 710.3" fill="none" stroke="#000" stroke-width="7.0" stroke-linecap="round" stroke-linejoin="round" style="stroke-linecap:butt"/>
<path d="M229.7 696.6 L241.3 710.7" fill="none" stroke="#fff" stroke-width="3.9" stroke-linecap="round" stroke-linejoin="round" style="stroke-linecap:butt"/>
<ellipse cx="241.0" cy="710.3" rx="3.0" ry="2.1" transform="rotate(-38 241.0 710.3)" fill="#fff" stroke="#000" stroke-width="1.5"/>
<path d="M221.2 689.7 C221.7 690.9 223.5 695.0 224.1 697.1 C224.8 699.3 224.9 700.5 225.2 702.4 C225.5 704.3 225.9 707.5 226.0 708.5 L232.9 707.1 L228.1 701.9 Z" fill="#000" stroke="#000" stroke-width="2.0" stroke-linecap="round" stroke-linejoin="round" />
<path d="M228.6 704.0 L232.1 706.6 L228.0 707.4 Z" fill="#fff" stroke="#fff" stroke-width="0.1" stroke-linecap="round" stroke-linejoin="round" />
<path d="M225.5 686.5 C226.2 687.3 227.9 690.0 229.7 691.3 C231.5 692.6 233.8 693.8 236.1 694.5 C238.3 695.2 241.9 695.5 243.1 695.6" fill="none" stroke="#000" stroke-width="2.6" stroke-linecap="round" stroke-linejoin="round" />
<path d="M214.2 675.5 L226.8 693.5" fill="none" stroke="#000" stroke-width="8.0" stroke-linecap="round" stroke-linejoin="round" />
<circle cx="213.7" cy="677.8" r="0.62" fill="#e8e8e8"/>
<circle cx="217.5" cy="677.2" r="0.62" fill="#e8e8e8"/>
<circle cx="215.7" cy="680.6" r="0.62" fill="#e8e8e8"/>
<circle cx="219.4" cy="680.0" r="0.62" fill="#e8e8e8"/>
<circle cx="217.6" cy="683.4" r="0.62" fill="#e8e8e8"/>
<circle cx="221.4" cy="682.8" r="0.62" fill="#e8e8e8"/>
<circle cx="219.6" cy="686.1" r="0.62" fill="#e8e8e8"/>
<circle cx="223.3" cy="685.6" r="0.62" fill="#e8e8e8"/>
<circle cx="221.5" cy="688.9" r="0.62" fill="#e8e8e8"/>
<circle cx="225.3" cy="688.4" r="0.62" fill="#e8e8e8"/>
<circle cx="223.5" cy="691.7" r="0.62" fill="#e8e8e8"/>
<circle cx="227.2" cy="691.2" r="0.62" fill="#e8e8e8"/>
<path d="M251.0 723.8 L253 726" fill="none" stroke="#000" stroke-width="1.9" stroke-linecap="round" stroke-linejoin="round" style="stroke-linecap:butt"/>
<path d="M251.6 724.4 C253.2 726.0 257.6 730.4 261.0 733.8 C264.4 737.2 269.4 741.9 271.9 744.7 C274.4 747.5 274.9 748.5 276.0 750.5 C277.1 752.5 277.8 754.2 278.4 756.5 C279.0 758.8 279.6 762.0 279.8 764.5 C280.0 767.0 279.2 769.6 279.3 771.6 C279.4 773.6 279.6 775.0 280.2 776.5 C280.8 778.0 281.3 779.0 282.7 780.6 C284.1 782.2 286.6 784.7 288.8 785.9 C291.0 787.1 293.4 787.9 295.9 787.9 C298.4 787.9 301.4 787.1 303.7 785.8 C305.9 784.5 308.0 782.5 309.4 780.1 C310.8 777.7 311.8 774.2 311.9 771.6 C312.0 769.0 311.0 766.4 310.2 764.5 C309.4 762.6 307.4 761.1 306.9 760.4" fill="none" stroke="#161616" stroke-width="4.2" stroke-linecap="round" stroke-linejoin="round" style="stroke-linecap:butt"/>
<circle cx="107.0" cy="814.3" r="25" fill="none" stroke="#000" stroke-width="1.5"/><text x="108.7" y="830.1" font-size="47" text-anchor="middle">2</text>
<rect x="176.8" y="805.2" width="10.1" height="39.8" fill="#fff" stroke="#000" stroke-width="1.35"/>
<path d="M178.9 845.8 C178.9 847.9 179.0 854.5 178.4 858.4 C177.8 862.2 177.2 865.4 175.2 869.0 C173.3 872.5 168.8 876.0 166.7 879.6 C164.7 883.1 163.7 886.4 163.0 890.2 C162.3 894.0 162.7 900.2 162.6 902.2" fill="none" stroke="#000" stroke-width="2.6" stroke-linecap="round" stroke-linejoin="round" style="stroke-linecap:butt"/>
<path d="M181.6 845.8 L181.6 902.2" fill="none" stroke="#000" stroke-width="2.6" stroke-linecap="round" stroke-linejoin="round" style="stroke-linecap:butt"/>
<path d="M184.4 845.8 C184.5 847.9 184.3 854.5 185.0 858.4 C185.7 862.2 186.6 865.4 188.6 869.0 C190.6 872.5 195.1 876.0 197.1 879.6 C199.1 883.1 199.9 886.4 200.6 890.2 C201.2 894.0 200.8 900.2 200.9 902.2" fill="none" stroke="#000" stroke-width="2.6" stroke-linecap="round" stroke-linejoin="round" style="stroke-linecap:butt"/>
<path d="M178.4 847.2 L185.0 847.2" fill="none" stroke="#000" stroke-width="3.2" stroke-linecap="round" stroke-linejoin="round" style="stroke-linecap:butt"/>
<rect x="156.7" y="913.3" width="11.8" height="44.7" fill="#fff" stroke="#000" stroke-width="1.7"/>
<rect x="175.2" y="913.3" width="12.8" height="44.7" fill="#fff" stroke="#000" stroke-width="1.7"/>
<rect x="194.3" y="913.3" width="12.3" height="44.7" fill="#fff" stroke="#000" stroke-width="1.7"/>
<path d="M168.4 932.4 L175.2 932.4M168.4 939.5 L175.2 939.5M188.1 932.4 L194.3 932.4M188.1 939.5 L194.3 939.5" fill="none" stroke="#000" stroke-width="1.3" stroke-linecap="round" stroke-linejoin="round" style="stroke-linecap:butt"/>
<circle cx="172.1" cy="935.9" r="1.25" fill="#fff" stroke="#000" stroke-width="0.9"/>
<circle cx="191.2" cy="935.9" r="1.25" fill="#fff" stroke="#000" stroke-width="0.9"/>
<circle cx="162.5" cy="927.8" r="4.2" fill="#fff" stroke="#000" stroke-width="2.9"/>
<path d="M162.5 924.4 V931.2" fill="none" stroke="#000" stroke-width="1.8" stroke-linecap="round" stroke-linejoin="round" />
<circle cx="162.5" cy="944.0" r="4.2" fill="#fff" stroke="#000" stroke-width="2.9"/>
<path d="M162.5 940.6 V947.4" fill="none" stroke="#000" stroke-width="1.8" stroke-linecap="round" stroke-linejoin="round" />
<circle cx="181.6" cy="927.8" r="4.2" fill="#fff" stroke="#000" stroke-width="2.9"/>
<path d="M181.6 924.4 V931.2" fill="none" stroke="#000" stroke-width="1.8" stroke-linecap="round" stroke-linejoin="round" />
<circle cx="181.6" cy="944.0" r="4.2" fill="#fff" stroke="#000" stroke-width="2.9"/>
<path d="M181.6 940.6 V947.4" fill="none" stroke="#000" stroke-width="1.8" stroke-linecap="round" stroke-linejoin="round" />
<circle cx="200.5" cy="927.8" r="4.2" fill="#fff" stroke="#000" stroke-width="2.9"/>
<path d="M200.5 924.4 V931.2" fill="none" stroke="#000" stroke-width="1.8" stroke-linecap="round" stroke-linejoin="round" />
<circle cx="200.5" cy="944.0" r="4.2" fill="#fff" stroke="#000" stroke-width="2.9"/>
<path d="M200.5 940.6 V947.4" fill="none" stroke="#000" stroke-width="1.8" stroke-linecap="round" stroke-linejoin="round" />
<path d="M181.6 912.9 Q184.6 912.9 188.6 915.9 L229.3 936.9 L189.7 955.1 Q185.7 958.1 182.7 958.1" fill="none" stroke="#000" stroke-width="1.4" stroke-linecap="round" stroke-linejoin="round" />
<circle cx="239.4" cy="936.9" r="8.6" fill="#fff" stroke="#000" stroke-width="1.45"/>
<path d="M239.4 930.3 V937.4 M233.4 937.4 H245.4 M235.4 939.8 H243.4 M237.0 941.9 H241.8" fill="none" stroke="#000" stroke-width="1.3" stroke-linecap="round" stroke-linejoin="round" style="stroke-linecap:butt"/>
<text x="148.2" y="911.8" font-size="8.6">N</text>
<text x="210.3" y="912.3" font-size="8.6">L</text>
<text x="148.2" y="967.2" font-size="8.6">N</text>
<text x="210.3" y="967.4" font-size="8.6">L</text>
<path d="M161.2 958.6 C161.8 960.1 162.1 964.9 164.4 967.9 C166.7 970.9 172.4 973.6 175.0 976.4 C177.7 979.2 179.1 982.2 180.3 984.9 C181.5 987.6 181.9 991.2 182.2 992.5" fill="none" stroke="#000" stroke-width="2.5" stroke-linecap="round" stroke-linejoin="round" style="stroke-linecap:butt"/>
<path d="M182.4 958.6 C182.4 959.9 183.0 963.9 181.9 966.8 C180.8 969.8 177.9 973.6 176.1 976.4 C174.2 979.2 171.8 981.1 170.8 983.8 C169.7 986.5 170.0 991.1 169.8 992.5" fill="none" stroke="#000" stroke-width="2.5" stroke-linecap="round" stroke-linejoin="round" style="stroke-linecap:butt"/>
<path d="M198.1 958.6 C198.1 959.8 198.9 963.2 197.7 965.8 C196.5 968.4 192.9 971.3 190.9 974.3 C188.9 977.3 186.9 980.8 185.6 983.8 C184.4 986.9 183.9 991.1 183.5 992.5" fill="none" stroke="#000" stroke-width="2.5" stroke-linecap="round" stroke-linejoin="round" style="stroke-linecap:butt"/>
<rect x="168.6" y="992.6" width="2.7" height="37.6" rx="0.8" fill="#777" stroke="#111" stroke-width="1.1"/>
<rect x="180" y="992.6" width="5.2" height="37.6" rx="0.6" fill="#fff" stroke="#000" stroke-width="1.4"/>
<path d="M683.5 104.6 L1042.5 161.8 L1042.5 168.6 L1010.1 214.7 L651.1 157.5 L651.1 150.7 Z" fill="#fff" stroke="none"/>
<path d="M701.5 114.3 L669.1 160.4 M719.4 117.1 L687.0 163.2 M737.4 120.0 L705.0 166.1 M755.3 122.8 L722.9 168.9 M773.2 125.7 L740.9 171.8 M791.2 128.6 L758.8 174.7 M809.1 131.4 L776.8 177.5 M827.1 134.3 L794.7 180.4 M845.0 137.1 L812.6 183.2 M863.0 140.0 L830.6 186.1 M881.0 142.9 L848.6 189.0 M898.9 145.7 L866.5 191.8 M916.9 148.6 L884.5 194.7 M934.8 151.4 L902.4 197.5 M952.8 154.3 L920.4 200.4 M970.7 157.2 L938.3 203.3 M988.6 160.0 L956.2 206.1 M1006.6 162.9 L974.2 209.0 M1024.5 165.7 L992.1 211.8 M675.4 122.9 L693.4 125.8 M659.2 146.0 L677.2 148.8 M685.2 137.3 L703.2 140.2 M711.3 128.6 L729.2 131.5 M695.1 151.7 L713.1 154.6 M721.1 143.0 L739.1 145.9 M747.2 134.4 L765.1 137.2 M731.0 157.4 L749.0 160.3 M757.0 148.8 L775.0 151.6 M783.1 140.1 L801.0 142.9 M766.9 163.1 L784.9 166.0 M792.9 154.5 L810.9 157.3 M819.0 145.8 L836.9 148.7 M802.8 168.9 L820.8 171.7 M828.8 160.2 L846.8 163.1 M854.9 151.5 L872.9 154.4 M838.7 174.6 L856.7 177.4 M864.8 165.9 L882.7 168.8 M890.8 157.2 L908.8 160.1 M874.6 180.3 L892.6 183.2 M900.6 171.6 L918.6 174.5 M926.7 163.0 L944.6 165.8 M910.5 186.0 L928.5 188.9 M936.5 177.4 L954.5 180.2 M962.6 168.7 L980.5 171.5 M946.4 191.7 L964.4 194.6 M972.4 183.1 L990.4 185.9 M998.5 174.4 L1016.4 177.3 M982.3 197.5 L1000.2 200.3 M1008.3 188.8 L1026.3 191.7" fill="none" stroke="#2a2a2a" stroke-width="0.7"/>
<path d="M651.1 157.5 L683.5 111.4 L1042.5 168.6" fill="none" stroke="#000" stroke-width="1.3" stroke-linejoin="round"/>
<path d="M683.5 104.6 L683.5 111.4" fill="none" stroke="#000" stroke-width="1.3"/>
<path d="M651.1 150.7 L651.1 157.5 L1010.1 214.7 L1042.5 168.6" fill="none" stroke="#000" stroke-width="1.4" stroke-linejoin="round" stroke-linecap="round"/>
<path d="M651.1 150.7 L683.5 104.6 L1042.5 161.8 L1042.5 168.6" fill="none" stroke="#000" stroke-width="2.1" stroke-linejoin="round" stroke-linecap="round"/>
<path d="M818.6 316.2 L589 625" fill="none" stroke="#000" stroke-width="1.25" stroke-linecap="round" stroke-linejoin="round" />
<path d="M818.3 317.1 C819.3 302.1 840.8 293.7 867.8 293.7 C894.8 293.7 915.9 301.3 916.9 314.3 L898.6 402.7 L835.5 404.8 Z" fill="#fff" stroke="#000" stroke-width="1.7" stroke-linecap="round" stroke-linejoin="round" />
<ellipse cx="867.1" cy="404.1" rx="31.2" ry="14.8" fill="#fff" stroke="#000" stroke-width="1.3"/>
<path d="M853.3 411 L858.2 395 L866.4 394 L867 440 L853.4 440 Z M882.6 404 L890.7 403 L891 440 L882.9 440 Z" fill="#fff" stroke="none"/>
<path d="M853.3 411.0 C853.3 442.5 853.4 535.2 853.5 600.0 C853.6 664.8 853.7 750.0 853.7 800.0 C853.7 850.0 853.7 868.3 853.6 900.0 C853.5 931.7 853.4 931.7 853.2 990.0 C853.1 1048.3 852.8 1205.5 852.7 1250.0 C852.6 1294.5 852.6 1255.8 852.6 1257.0" fill="none" stroke="#000" stroke-width="1.45" stroke-linecap="round" stroke-linejoin="round" />
<path d="M858.2 395.0 C858.5 412.5 859.4 465.8 860.0 500.0 C860.6 534.2 861.5 566.7 861.6 600.0 C861.7 633.3 861.0 666.7 860.5 700.0 C860.0 733.3 859.0 766.7 858.3 800.0 C857.6 833.3 857.3 868.3 856.5 900.0 C855.7 931.7 854.6 932.5 853.5 990.0 C852.4 1047.5 850.5 1200.5 850.0 1245.0 C849.5 1289.5 850.3 1255.0 850.4 1257.0" fill="none" stroke="#000" stroke-width="1.45" stroke-linecap="round" stroke-linejoin="round" />
<path d="M866.4 394.0 C866.7 411.7 867.8 462.3 868.3 500.0 C868.8 537.7 869.5 586.7 869.6 620.0 C869.7 653.3 869.2 670.0 868.8 700.0 C868.4 730.0 867.5 766.7 867.0 800.0 C866.5 833.3 866.1 868.3 865.5 900.0 C864.9 931.7 864.1 931.7 863.3 990.0 C862.5 1048.3 861.0 1205.5 860.5 1250.0 C860.0 1294.5 860.4 1255.8 860.4 1257.0" fill="none" stroke="#000" stroke-width="1.45" stroke-linecap="round" stroke-linejoin="round" />
<path d="M882.6 404.0 C882.8 423.3 883.6 479.0 883.7 520.0 C883.8 561.0 883.5 603.3 883.0 650.0 C882.5 696.7 881.1 758.3 880.7 800.0 C880.3 841.7 880.2 868.3 880.6 900.0 C881.0 931.7 882.0 956.7 882.8 990.0 C883.6 1023.3 884.5 1056.7 885.5 1100.0 C886.5 1143.3 888.3 1221.7 888.9 1250.0 C889.5 1278.3 889.2 1266.7 889.3 1270.0" fill="none" stroke="#000" stroke-width="1.45" stroke-linecap="round" stroke-linejoin="round" />
<path d="M890.7 403.0 C891.0 427.5 892.2 503.8 892.4 550.0 C892.5 596.2 892.0 638.3 891.6 680.0 C891.2 721.7 890.3 763.3 890.0 800.0 C889.7 836.7 889.5 868.3 889.6 900.0 C889.7 931.7 890.1 956.7 890.7 990.0 C891.4 1023.3 892.4 1056.7 893.5 1100.0 C894.6 1143.3 896.7 1221.7 897.4 1250.0 C898.1 1278.3 897.7 1266.7 897.8 1270.0" fill="none" stroke="#000" stroke-width="1.45" stroke-linecap="round" stroke-linejoin="round" />
<ellipse cx="866.0" cy="177.5" rx="6.4" ry="2.5" fill="#111" stroke="#000" stroke-width="0.85"/>
<circle cx="861.6" cy="178.1" r="0.8" fill="#ccc"/><circle cx="870.4" cy="178.1" r="0.8" fill="#ccc"/>
<path d="M865.8 178.1 C865.8 183.3 865.8 201.3 865.8 209.5 C865.8 217.7 866.1 223.5 865.8 227.5 C865.6 231.4 865.4 232.0 864.4 233.3 C863.3 234.6 861.5 235.2 859.4 235.2 C857.3 235.3 854.9 234.6 852.0 233.8 C849.1 232.9 844.6 230.9 842.1 230.3 C839.6 229.7 838.4 229.8 837.1 230.3 C835.9 230.8 835.0 230.6 834.5 233.0 C834.1 235.5 834.6 240.7 834.4 245.0 C834.2 249.4 833.5 255.1 833.2 259.0 C832.8 262.9 832.4 267.1 832.3 268.7" fill="none" stroke="#000" stroke-width="7.0" stroke-linecap="round" stroke-linejoin="round" />
<path d="M865.8 178.1 C865.8 183.3 865.8 201.3 865.8 209.5 C865.8 217.7 866.1 223.5 865.8 227.5 C865.6 231.4 865.4 232.0 864.4 233.3 C863.3 234.6 861.5 235.2 859.4 235.2 C857.3 235.3 854.9 234.6 852.0 233.8 C849.1 232.9 844.6 230.9 842.1 230.3 C839.6 229.7 838.4 229.8 837.1 230.3 C835.9 230.8 835.0 230.6 834.5 233.0 C834.1 235.5 834.6 240.7 834.4 245.0 C834.2 249.4 833.5 255.1 833.2 259.0 C832.8 262.9 832.4 267.1 832.3 268.7" fill="none" stroke="#fff" stroke-width="3.6" stroke-linecap="round" stroke-linejoin="round" />
<path d="M885.0 181.4 L885.0 192.9 M888.8 182.4 L888.8 192.9" fill="none" stroke="#000" stroke-width="1.615" stroke-linecap="round" stroke-linejoin="round" style="stroke-linecap:butt"/>
<path d="M886.9 192.4 C886.9 193.2 887.0 195.6 887.3 197.1 C887.5 198.7 887.4 199.9 888.2 201.8 C889.0 203.6 890.6 206.3 891.9 208.2 C893.2 210.1 895.0 211.2 896.2 213.0 C897.4 214.8 898.8 216.8 899.1 218.8 C899.3 220.8 898.8 223.4 897.7 225.2 C896.6 227.0 894.3 228.8 892.4 229.4 C890.6 230.0 888.6 229.6 886.6 228.9 C884.6 228.2 881.9 226.6 880.2 225.2 C878.5 223.8 877.3 221.9 876.5 220.4 C875.7 218.9 875.7 217.1 875.5 216.4" fill="none" stroke="#000" stroke-width="5.3" stroke-linecap="round" stroke-linejoin="round" />
<path d="M886.9 192.4 C886.9 193.2 887.0 195.6 887.3 197.1 C887.5 198.7 887.4 199.9 888.2 201.8 C889.0 203.6 890.6 206.3 891.9 208.2 C893.2 210.1 895.0 211.2 896.2 213.0 C897.4 214.8 898.8 216.8 899.1 218.8 C899.3 220.8 898.8 223.4 897.7 225.2 C896.6 227.0 894.3 228.8 892.4 229.4 C890.6 230.0 888.6 229.6 886.6 228.9 C884.6 228.2 881.9 226.6 880.2 225.2 C878.5 223.8 877.3 221.9 876.5 220.4 C875.7 218.9 875.7 217.1 875.5 216.4" fill="none" stroke="#fff" stroke-width="2.07" stroke-linecap="round" stroke-linejoin="round" />
<path d="M856.5 266.0 C857.5 266.2 861.1 266.2 862.7 267.3 C864.3 268.3 866.0 270.6 866.1 272.2 C866.2 273.9 865.4 276.2 863.3 277.2 C861.2 278.2 855.1 278.0 853.4 278.1" fill="none" stroke="#000" stroke-width="1.53" stroke-linecap="round" stroke-linejoin="round" />
<path d="M856.5 269.4 C857.3 269.6 860.3 269.7 861.5 270.4 C862.6 271.0 863.4 272.6 863.3 273.5 C863.2 274.3 862.2 275.0 860.8 275.3 C859.5 275.7 856.2 275.6 855.3 275.6" fill="none" stroke="#000" stroke-width="1.53" stroke-linecap="round" stroke-linejoin="round" />
<path d="M826.8 269.3 L835.8 266.3 L856.1 269.8 L855.4 272.2 L851.2 277.8 L848.5 283.2 L826.8 279.3 Z" fill="#fff" stroke="#000" stroke-width="1.7" stroke-linecap="round" stroke-linejoin="round" />
<path d="M835.2 268.0 L855.4 271.7M832.7 271.3 L853.4 275.1M831.4 274.1 L851.2 277.8" fill="none" stroke="#000" stroke-width="1.615" stroke-linecap="round" stroke-linejoin="round" />
<path d="M826.8 269.3 L830.2 268.2 L830.2 280.0 L826.8 279.3 Z" fill="#000" stroke="#000" stroke-width="0.85" stroke-linecap="round" stroke-linejoin="round" />
<path d="M837.0 258.3 L856.5 261.6 L856.1 269.8 L835.8 266.3 Z" fill="#fff" stroke="#000" stroke-width="1.7" stroke-linecap="round" stroke-linejoin="round" />
<rect x="838.6" y="253.7" width="6.2" height="5.3" rx="2.0" fill="#fff" stroke="#000" stroke-width="1.7"/>
<rect x="846.0" y="254.9" width="6.2" height="5.3" rx="2.0" fill="#fff" stroke="#000" stroke-width="1.7"/>
<path d="M837.2 258.7 L856.4 262.0 L856.1 269.8 L835.9 266.3 Z" fill="#fff" stroke="#000" stroke-width="1.7" stroke-linecap="round" stroke-linejoin="round" />
<path d="M839.2 262.9 L853.4 264.9" fill="none" stroke="#999" stroke-width="0.935" stroke-linecap="round" stroke-linejoin="round" stroke-dasharray="1 1"/>
<path d="M875.7 271.6 C876.4 272.3 879.1 274.4 879.9 275.9 C880.7 277.5 880.8 279.1 880.3 280.9 C879.9 282.6 878.5 285.2 877.2 286.5 C876.0 287.7 873.4 288.3 872.6 288.6" fill="#fff" stroke="#000" stroke-width="1.53" stroke-linecap="round" stroke-linejoin="round" />
<path d="M869.5 280.3 C868.9 280.5 866.8 280.8 865.8 281.6 C864.8 282.5 863.9 283.2 863.4 285.2 C863.0 287.2 863.3 292.2 863.3 293.6 L871.5 293.6 L870.9 282.1 Z" fill="#fff" stroke="none" stroke-width="0" stroke-linecap="round" stroke-linejoin="round" />
<path d="M869.5 280.3 C868.9 280.5 866.8 280.8 865.8 281.6 C864.8 282.5 863.9 283.2 863.4 285.2 C863.0 287.2 863.3 292.2 863.3 293.6" fill="none" stroke="#000" stroke-width="1.7" stroke-linecap="round" stroke-linejoin="round" />
<path d="M870.9 284.6 L871.5 293.6" fill="none" stroke="#000" stroke-width="1.7" stroke-linecap="round" stroke-linejoin="round" />
<ellipse cx="872.0" cy="271.5" rx="3.2" ry="15.3" transform="rotate(3 872.0 271.5)" fill="none" stroke="#000" stroke-width="4.13"/>
<ellipse cx="872.0" cy="271.5" rx="3.2" ry="15.3" transform="rotate(3 872.0 271.5)" fill="none" stroke="#fff" stroke-width="1.16"/>
<path d="M932.4 1360.7 C932.3 1361.5 932.3 1363.7 931.7 1365.5 C931.0 1367.2 928.7 1369.4 928.5 1371.0 C928.2 1372.7 928.7 1373.6 930.1 1375.3 C931.4 1377.1 933.9 1378.3 936.4 1381.4 C938.9 1384.5 942.9 1389.3 945.2 1394.1 C947.4 1398.9 949.4 1404.7 950.0 1410.0 C950.5 1415.3 950.1 1420.6 948.4 1425.9 C946.6 1431.3 943.2 1437.5 939.6 1441.9 C936.0 1446.2 931.4 1450.0 926.9 1452.2 C922.4 1454.5 917.3 1455.4 912.6 1455.4 C907.8 1455.4 902.5 1453.7 898.2 1452.2 C894.0 1450.7 888.9 1447.3 887.1 1446.3" fill="none" stroke="#000" stroke-width="1.6" stroke-linecap="round" stroke-linejoin="round" />
<path d="M879.9 1289.2 C880.7 1288.8 882.2 1287.2 884.9 1286.4 C887.6 1285.5 892.4 1284.6 896.2 1284.1 C900.0 1283.6 904.2 1282.9 907.8 1283.3 C911.3 1283.7 914.8 1285.0 917.4 1286.7 C920.0 1288.3 922.1 1290.9 923.3 1293.0 C924.6 1295.2 924.5 1298.3 924.8 1299.4 L932.2 1361.4 L880.6 1365.9 L876.4 1347.5 Z" fill="#fff" stroke="none" stroke-width="0" stroke-linecap="round" stroke-linejoin="round" />
<path d="M879.9 1289.2 C880.7 1288.8 882.2 1287.2 884.9 1286.4 C887.6 1285.5 892.4 1284.6 896.2 1284.1 C900.0 1283.6 904.2 1282.9 907.8 1283.3 C911.3 1283.7 914.8 1285.0 917.4 1286.7 C920.0 1288.3 922.1 1290.9 923.3 1293.0 C924.6 1295.2 924.5 1298.3 924.8 1299.4 L932.2 1361.4" fill="none" stroke="#000" stroke-width="1.6" stroke-linecap="round" stroke-linejoin="round" />
<path d="M879.9 1289.2 L876.4 1347.5 L880.6 1365.9" fill="none" stroke="#000" stroke-width="1.6" stroke-linecap="round" stroke-linejoin="round" />
<path d="M932.2 1360.5 C931.2 1359.6 928.4 1356.5 925.9 1355.3 C923.4 1354.0 920.5 1353.5 917.4 1353.2 C914.3 1352.8 910.6 1353.0 907.5 1353.2 C904.4 1353.3 902.1 1353.4 899.0 1354.3 C895.9 1355.2 892.2 1356.7 889.1 1358.5 C886.0 1360.3 882.0 1364.0 880.6 1365.0" fill="none" stroke="#000" stroke-width="1.6" stroke-linecap="round" stroke-linejoin="round" />
<path d="M932.2 1361.4 C931.8 1362.3 930.0 1365.6 929.4 1367.3 C928.8 1369.0 928.5 1369.8 928.7 1371.5 C928.9 1373.3 930.5 1376.8 930.8 1377.9" fill="none" stroke="#000" stroke-width="1.6" stroke-linecap="round" stroke-linejoin="round" />
<path d="M886.6 1285.5 C886.5 1283.5 885.3 1275.9 886.0 1273.4 C886.7 1270.8 888.8 1271.0 890.5 1270.3 C892.2 1269.6 894.4 1269.1 896.2 1269.1 C897.9 1269.1 899.7 1269.7 901.1 1270.3 C902.5 1270.9 903.9 1270.7 904.7 1272.8 C905.4 1274.9 905.4 1281.1 905.5 1282.7" fill="#fff" stroke="#000" stroke-width="1.6" stroke-linecap="round" stroke-linejoin="round" />
<path d="M903.0 1271.4 C903.2 1272.3 904.1 1275.2 904.4 1277.1 C904.7 1278.9 904.6 1281.5 904.7 1282.4" fill="none" stroke="#000" stroke-width="1.0" stroke-linecap="round" stroke-linejoin="round" />
<path d="M876.4 1347.5 L881.3 1392.8 M880.6 1367.3 C881.4 1368.7 884.6 1373.4 885.6 1375.8 C886.6 1378.1 886.7 1379.4 886.6 1381.4 C886.4 1383.4 885.4 1385.9 884.6 1387.8 C883.7 1389.7 882.0 1391.9 881.5 1392.8" fill="none" stroke="#000" stroke-width="1.6" stroke-linecap="round" stroke-linejoin="round" />
<path d="M875.0 1376.1 L878.1 1379.3 L878.6 1382.1" fill="none" stroke="#000" stroke-width="1.0" stroke-linecap="round" stroke-linejoin="round" />
<path d="M822.6 1349.5 C822.8 1350.4 823.0 1353.1 823.7 1354.6 C824.5 1356.2 826.5 1357.1 826.9 1358.8 C827.3 1360.5 828.2 1361.6 826.3 1364.7 C824.4 1367.8 818.4 1373.0 815.5 1377.4 C812.5 1381.8 810.1 1386.8 808.8 1390.9 C807.5 1395.0 807.2 1398.2 807.5 1402.1 C807.8 1405.9 809.0 1410.4 810.4 1414.0 C811.7 1417.6 814.6 1422.2 815.5 1423.9" fill="none" stroke="#000" stroke-width="1.6" stroke-linecap="round" stroke-linejoin="round" />
<path d="M815.5 1423.9 C815.1 1425.3 813.9 1429.6 813.6 1432.3 C813.2 1435.0 812.8 1437.1 813.2 1440.3 C813.7 1443.5 814.0 1447.4 816.3 1451.4 C818.5 1455.4 822.2 1460.7 826.6 1464.1 C831.0 1467.6 838.0 1470.6 842.5 1472.1 C847.0 1473.6 849.7 1473.8 853.7 1473.4 C857.6 1473.0 862.2 1472.0 866.4 1469.7 C870.6 1467.4 875.9 1462.7 879.1 1459.4 C882.3 1456.1 884.1 1452.0 885.5 1449.8 C886.9 1447.6 887.1 1446.6 887.4 1446.0" fill="none" stroke="#000" stroke-width="1.6" stroke-linecap="round" stroke-linejoin="round" />
<path d="M826.6 1287.4 C827.0 1286.0 827.3 1281.4 829.0 1278.9 C830.7 1276.4 833.5 1273.7 836.8 1272.2 C840.1 1270.8 844.3 1270.3 848.8 1270.0 C853.3 1269.7 859.5 1269.7 863.6 1270.6 C867.8 1271.4 871.1 1272.9 873.6 1275.4 C876.0 1277.8 877.4 1283.6 878.2 1285.3 L876.4 1347.8 L822.6 1350.3 Z" fill="#fff" stroke="none" stroke-width="0" stroke-linecap="round" stroke-linejoin="round" />
<path d="M822.6 1350.3 L826.6 1287.4 C827.0 1286.0 827.3 1281.4 829.0 1278.9 C830.7 1276.4 833.5 1273.7 836.8 1272.2 C840.1 1270.8 844.3 1270.3 848.8 1270.0 C853.3 1269.7 859.5 1269.7 863.6 1270.6 C867.8 1271.4 871.1 1272.9 873.6 1275.4 C876.0 1277.8 877.4 1283.6 878.2 1285.3 L876.4 1347.8" fill="none" stroke="#000" stroke-width="1.6" stroke-linecap="round" stroke-linejoin="round" />
<path d="M822.9 1349.2 C824.2 1347.9 827.2 1343.1 830.4 1341.1 C833.7 1339.2 838.5 1338.1 842.4 1337.6 C846.3 1337.1 850.4 1337.7 853.7 1338.3 C857.0 1338.9 859.4 1339.7 862.2 1341.1 C865.1 1342.5 868.6 1344.9 870.7 1346.8 C872.9 1348.7 874.7 1350.6 875.2 1352.4 C875.8 1354.3 874.8 1356.5 873.8 1358.1 C872.8 1359.7 870.1 1361.3 869.3 1361.9" fill="none" stroke="#000" stroke-width="1.6" stroke-linecap="round" stroke-linejoin="round" />
<path d="M822.6 1350.3 C822.9 1351.1 823.3 1353.3 824.0 1354.9 C824.8 1356.4 826.6 1358.7 827.2 1359.5" fill="none" stroke="#000" stroke-width="1.6" stroke-linecap="round" stroke-linejoin="round" />
<path d="M849.5 1270.3 C849.4 1268.3 848.0 1260.7 849.1 1258.4 C850.1 1256.1 853.6 1256.6 855.9 1256.7 C858.2 1256.7 861.7 1256.4 862.9 1258.7 C864.2 1260.9 863.2 1268.3 863.2 1270.3" fill="#fff" stroke="#000" stroke-width="1.6" stroke-linecap="round" stroke-linejoin="round" />
<path d="M848.8 1257.8 C848.4 1258.0 846.8 1258.3 846.4 1259.1 C846.0 1259.8 846.1 1261.6 846.4 1262.3 C846.7 1263.1 848.0 1263.3 848.4 1263.5" fill="none" stroke="#000" stroke-width="1.2" stroke-linecap="round" stroke-linejoin="round" />
<path d="M836.5 1431.0 L849.7 1434.2" fill="none" stroke="#333" stroke-width="1.6" stroke-linecap="round" stroke-linejoin="round" />
<path d="M837.5 1432.8 L846.7 1435.4" fill="none" stroke="#555" stroke-width="0.8" stroke-linecap="round" stroke-linejoin="round" />
<path d="M844.1 1469.2 L856.8 1470.8" fill="none" stroke="#333" stroke-width="1.6" stroke-linecap="round" stroke-linejoin="round" />
<path d="M845.1 1471.0 L853.8 1472.0" fill="none" stroke="#555" stroke-width="0.8" stroke-linecap="round" stroke-linejoin="round" />
<path d="M909.7 1450.1 L922.9 1447.6" fill="none" stroke="#333" stroke-width="1.6" stroke-linecap="round" stroke-linejoin="round" />
<path d="M910.7 1451.9 L919.9 1448.8" fill="none" stroke="#555" stroke-width="0.8" stroke-linecap="round" stroke-linejoin="round" />
<rect x="413.6" y="624.7" width="389.3" height="437.7" fill="#fff" stroke="none"/>
<clipPath id="insetclip"><rect x="413.6" y="624.7" width="389.3" height="437.7"/></clipPath>
<g clip-path="url(#insetclip)">
<path d="M457.3 644.1 L822.8 718.4 L822.8 725.5 L782.5 772.3 L417.0 698.0 L417.0 690.9 Z" fill="#fff" stroke="none"/>
<path d="M475.6 654.9 L435.3 701.7 M493.9 658.6 L453.6 705.4 M512.1 662.3 L471.8 709.1 M530.4 666.1 L490.1 712.9 M548.7 669.8 L508.4 716.6 M567.0 673.5 L526.7 720.3 M585.2 677.2 L544.9 724.0 M603.5 680.9 L563.2 727.7 M621.8 684.6 L581.5 731.4 M640.0 688.4 L599.8 735.1 M658.3 692.1 L618.0 738.9 M676.6 695.8 L636.3 742.6 M694.9 699.5 L654.6 746.3 M713.1 703.2 L672.9 750.0 M731.4 706.9 L691.1 753.7 M749.7 710.6 L709.4 757.4 M768.0 714.4 L727.7 761.2 M786.2 718.1 L746.0 764.9 M804.5 721.8 L764.2 768.6 M447.2 662.9 L465.5 666.6 M427.1 686.3 L445.3 690.0 M455.4 678.3 L473.7 682.0 M483.8 670.3 L502.1 674.0 M463.6 693.7 L481.9 697.4 M492.0 685.7 L510.2 689.5 M520.3 677.8 L538.6 681.5 M500.2 701.2 L518.4 704.9 M528.5 693.2 L546.8 696.9 M556.9 685.2 L575.1 688.9 M536.7 708.6 L555.0 712.3 M565.1 700.6 L583.4 704.3 M593.4 692.6 L611.7 696.3 M573.3 716.0 L591.5 719.7 M601.6 708.0 L619.9 711.8 M630.0 700.1 L648.2 703.8 M609.8 723.5 L628.1 727.2 M638.2 715.5 L656.5 719.2 M666.5 707.5 L684.8 711.2 M646.4 730.9 L664.6 734.6 M674.7 722.9 L693.0 726.6 M703.1 714.9 L721.3 718.6 M682.9 738.3 L701.2 742.0 M711.3 730.3 L729.6 734.0 M739.6 722.3 L757.9 726.1 M719.5 745.7 L737.8 749.5 M747.8 737.8 L766.1 741.5 M776.2 729.8 L794.4 733.5 M756.0 753.2 L774.3 756.9 M784.4 745.2 L802.6 748.9" fill="none" stroke="#333" stroke-width="0.6"/>
<path d="M417.0 698.0 L457.3 651.2 L822.8 725.5" fill="none" stroke="#111" stroke-width="0.8" stroke-linejoin="round"/>
<path d="M457.3 644.1 L457.3 651.2" fill="none" stroke="#111" stroke-width="0.8"/>
<path d="M417.0 690.9 L417.0 698.0 L782.5 772.3 L822.8 725.5" fill="none" stroke="#111" stroke-width="1.0" stroke-linejoin="round" stroke-linecap="round"/>
<path d="M417.0 690.9 L457.3 644.1 L822.8 718.4 L822.8 725.5" fill="none" stroke="#111" stroke-width="1.5" stroke-linejoin="round" stroke-linecap="round"/>
<path d="M584.7 874.0 C585.7 858.0 608.5 850.2 636.5 850.2 C664.5 850.2 687.7 858.0 688.7 873.0 L668.2 967.0 L604.8 967.5 Z" fill="#fff" stroke="#1a1a1a" stroke-width="1.0" stroke-linecap="round" stroke-linejoin="round" />
<ellipse cx="636.5" cy="966" rx="31.8" ry="15.5" fill="#fff" stroke="#1a1a1a" stroke-width="0.8"/>
<path d="M621.8 973.7 L629.3 956.7 L637.5 955.7 L638 1000 L621.8 1000 Z M653.3 967.2 L661.2 966.2 L661.5 1000 L653.5 1000 Z" fill="#fff" stroke="none"/>
<path d="M621.8 973.7 L621.5 1063.0" fill="none" stroke="#1a1a1a" stroke-width="0.95" stroke-linecap="round" stroke-linejoin="round" />
<path d="M629.3 956.7 L630.5 1063.0" fill="none" stroke="#1a1a1a" stroke-width="0.95" stroke-linecap="round" stroke-linejoin="round" />
<path d="M637.5 955.7 L639.2 1063.0" fill="none" stroke="#1a1a1a" stroke-width="0.95" stroke-linecap="round" stroke-linejoin="round" />
<path d="M653.3 967.2 L654.2 1063.0" fill="none" stroke="#1a1a1a" stroke-width="0.95" stroke-linecap="round" stroke-linejoin="round" />
<path d="M661.2 966.2 L662.3 1063.0" fill="none" stroke="#1a1a1a" stroke-width="0.95" stroke-linecap="round" stroke-linejoin="round" />
<ellipse cx="638.0" cy="727.8" rx="5.6" ry="2.4" fill="#fff" stroke="#1a1a1a" stroke-width="0.9"/>
<path d="M637.9 728.1 C637.9 733.6 637.9 752.5 637.9 761.2 C637.9 769.9 638.1 776.0 637.9 780.2 C637.6 784.3 637.4 784.9 636.3 786.3 C635.2 787.7 633.2 788.3 631.1 788.4 C628.9 788.5 626.3 787.7 623.2 786.8 C620.2 785.9 615.4 783.8 612.8 783.2 C610.2 782.6 608.9 782.7 607.6 783.2 C606.2 783.6 605.3 783.4 604.8 786.0 C604.3 788.6 604.9 794.1 604.7 798.7 C604.5 803.3 603.8 809.3 603.4 813.5 C603.0 817.6 602.6 821.9 602.5 823.6" fill="none" stroke="#1a1a1a" stroke-width="5.8" stroke-linecap="round" stroke-linejoin="round" />
<path d="M637.9 728.1 C637.9 733.6 637.9 752.5 637.9 761.2 C637.9 769.9 638.1 776.0 637.9 780.2 C637.6 784.3 637.4 784.9 636.3 786.3 C635.2 787.7 633.2 788.3 631.1 788.4 C628.9 788.5 626.3 787.7 623.2 786.8 C620.2 785.9 615.4 783.8 612.8 783.2 C610.2 782.6 608.9 782.7 607.6 783.2 C606.2 783.6 605.3 783.4 604.8 786.0 C604.3 788.6 604.9 794.1 604.7 798.7 C604.5 803.3 603.8 809.3 603.4 813.5 C603.0 817.6 602.6 821.9 602.5 823.6" fill="none" stroke="#fff" stroke-width="4.0" stroke-linecap="round" stroke-linejoin="round" />
<path d="M658.5 731.6 L658.5 743.7 M661.7 732.6 L661.7 743.7" fill="none" stroke="#1a1a1a" stroke-width="0.855" stroke-linecap="round" stroke-linejoin="round" style="stroke-linecap:butt"/>
<path d="M660.1 743.2 C660.1 744.0 660.2 746.5 660.4 748.2 C660.7 749.8 660.6 751.1 661.5 753.1 C662.3 755.0 664.0 757.9 665.4 759.9 C666.8 761.8 668.6 763.0 669.9 764.9 C671.2 766.8 672.7 768.9 672.9 771.0 C673.2 773.2 672.6 775.9 671.5 777.8 C670.3 779.6 667.8 781.6 665.9 782.2 C663.9 782.9 661.9 782.4 659.8 781.7 C657.6 780.9 654.8 779.3 653.0 777.8 C651.2 776.3 649.9 774.3 649.1 772.7 C648.3 771.2 648.2 769.2 648.0 768.5" fill="none" stroke="#1a1a1a" stroke-width="4.0" stroke-linecap="round" stroke-linejoin="round" />
<path d="M660.1 743.2 C660.1 744.0 660.2 746.5 660.4 748.2 C660.7 749.8 660.6 751.1 661.5 753.1 C662.3 755.0 664.0 757.9 665.4 759.9 C666.8 761.8 668.6 763.0 669.9 764.9 C671.2 766.8 672.7 768.9 672.9 771.0 C673.2 773.2 672.6 775.9 671.5 777.8 C670.3 779.6 667.8 781.6 665.9 782.2 C663.9 782.9 661.9 782.4 659.8 781.7 C657.6 780.9 654.8 779.3 653.0 777.8 C651.2 776.3 649.9 774.3 649.1 772.7 C648.3 771.2 648.2 769.2 648.0 768.5" fill="none" stroke="#fff" stroke-width="2.29" stroke-linecap="round" stroke-linejoin="round" />
<path d="M628.0 820.9 C629.1 821.1 632.9 821.1 634.5 822.2 C636.2 823.3 638.0 825.7 638.1 827.4 C638.2 829.1 637.4 831.6 635.2 832.6 C633.0 833.7 626.5 833.4 624.8 833.6" fill="none" stroke="#1a1a1a" stroke-width="0.81" stroke-linecap="round" stroke-linejoin="round" />
<path d="M628.0 824.5 C628.9 824.6 632.0 824.7 633.2 825.4 C634.4 826.1 635.3 827.8 635.2 828.7 C635.1 829.6 634.0 830.3 632.6 830.7 C631.2 831.0 627.7 830.9 626.7 831.0" fill="none" stroke="#1a1a1a" stroke-width="0.81" stroke-linecap="round" stroke-linejoin="round" />
<path d="M596.7 824.3 L606.1 821.2 L627.6 824.8 L626.8 827.4 L622.5 833.3 L619.5 839.0 L596.7 834.9 Z" fill="#fff" stroke="#1a1a1a" stroke-width="0.9" stroke-linecap="round" stroke-linejoin="round" />
<path d="M605.5 823.0 L626.8 826.9M602.9 826.4 L624.8 830.5M601.6 829.4 L622.5 833.3" fill="none" stroke="#1a1a1a" stroke-width="0.855" stroke-linecap="round" stroke-linejoin="round" />
<path d="M596.7 824.3 L600.3 823.2 L600.3 835.6 L596.7 834.9 Z" fill="#1a1a1a" stroke="#1a1a1a" stroke-width="0.45" stroke-linecap="round" stroke-linejoin="round" />
<path d="M607.5 812.7 L628.0 816.2 L627.6 824.8 L606.1 821.2 Z" fill="#fff" stroke="#1a1a1a" stroke-width="0.9" stroke-linecap="round" stroke-linejoin="round" />
<rect x="609.1" y="807.8" width="6.5" height="5.5" rx="2.1" fill="#fff" stroke="#1a1a1a" stroke-width="0.9"/>
<rect x="616.9" y="809.1" width="6.5" height="5.5" rx="2.1" fill="#fff" stroke="#1a1a1a" stroke-width="0.9"/>
<path d="M607.6 813.2 L627.9 816.6 L627.6 824.8 L606.3 821.2 Z" fill="#fff" stroke="#1a1a1a" stroke-width="0.9" stroke-linecap="round" stroke-linejoin="round" />
<path d="M609.7 817.6 L624.8 819.7" fill="none" stroke="#999" stroke-width="0.49500000000000005" stroke-linecap="round" stroke-linejoin="round" stroke-dasharray="1 1"/>
<path d="M648.3 826.7 C649.0 827.5 651.9 829.7 652.7 831.3 C653.5 832.9 653.6 834.7 653.1 836.5 C652.7 838.4 651.2 841.1 649.9 842.4 C648.5 843.8 645.8 844.3 645.0 844.7" fill="#fff" stroke="#1a1a1a" stroke-width="0.81" stroke-linecap="round" stroke-linejoin="round" />
<path d="M641.7 835.9 C641.1 836.1 638.9 836.4 637.8 837.3 C636.7 838.2 635.8 839.0 635.3 841.1 C634.9 843.2 635.2 848.5 635.2 849.9 L643.8 849.9 L643.2 837.8 Z" fill="#fff" stroke="none" stroke-width="0" stroke-linecap="round" stroke-linejoin="round" />
<path d="M641.7 835.9 C641.1 836.1 638.9 836.4 637.8 837.3 C636.7 838.2 635.8 839.0 635.3 841.1 C634.9 843.2 635.2 848.5 635.2 849.9" fill="none" stroke="#1a1a1a" stroke-width="0.9" stroke-linecap="round" stroke-linejoin="round" />
<path d="M643.2 840.5 L643.8 849.9" fill="none" stroke="#1a1a1a" stroke-width="0.9" stroke-linecap="round" stroke-linejoin="round" />
<ellipse cx="644.3" cy="826.6" rx="3.4" ry="16.2" transform="rotate(3 644.3 826.6)" fill="none" stroke="#1a1a1a" stroke-width="3.12"/>
<ellipse cx="644.3" cy="826.6" rx="3.4" ry="16.2" transform="rotate(3 644.3 826.6)" fill="none" stroke="#fff" stroke-width="0.87"/>
</g>
<rect x="413.6" y="624.7" width="389.3" height="437.7" fill="none" stroke="#cdcdcd" stroke-width="1.3"/>
<circle cx="463.6" cy="1014.4" r="24.9" fill="none" stroke="#000" stroke-width="1.45"/>
<text x="465.3" y="1030.3" font-size="46.5" text-anchor="middle">3</text>
</svg>
</body></html>
